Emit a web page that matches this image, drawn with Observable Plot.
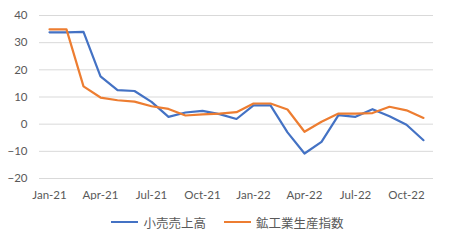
<!DOCTYPE html>
<html>
<head>
<meta charset="utf-8">
<script src="https://cdn.jsdelivr.net/npm/d3@7"></script>
<script src="https://cdn.jsdelivr.net/npm/@observablehq/plot@0.6"></script>
<style>
  html, body { margin: 0; padding: 0; background: #fff; }
  #chart { width: 450px; height: 244px; position: relative; overflow: hidden; }
  .legend { display: flex; justify-content: center; align-items: center; height: 44px; margin-top: 0px; padding-left: 5px;
            font-family: "Noto Sans CJK JP", sans-serif; font-size: 12.5px; color: #595959; }
  .item { display: flex; align-items: center; margin: 0 9px; }
  .sw { width: 27px; height: 2.5px; margin-right: 5px; }
</style>
</head>
<body>
<div id="chart"></div>
<script>
const months = ["Jan-21","Feb-21","Mar-21","Apr-21","May-21","Jun-21","Jul-21","Aug-21","Sep-21","Oct-21","Nov-21","Dec-21",
                "Jan-22","Feb-22","Mar-22","Apr-22","May-22","Jun-22","Jul-22","Aug-22","Sep-22","Oct-22","Nov-22"];
const tickLabels = ["Jan-21","Apr-21","Jul-21","Oct-21","Jan-22","Apr-22","Jul-22","Oct-22"];
const yTicks = [-20, -10, 0, 10, 20, 30, 40];
const seriesNames = ["小売売上高", "鉱工業生産指数"];
const seriesColors = ["#4472C4", "#ED7D31"];
const retail = [33.8,33.8,34.0,17.6,12.5,12.2,8.2,2.7,4.3,4.9,3.7,1.9,6.9,6.9,-3.0,-10.8,-6.5,3.3,2.7,5.5,2.9,-0.2,-5.9];
const mining = [34.9,34.9,13.9,9.8,8.8,8.3,6.6,5.6,3.2,3.6,3.9,4.4,7.6,7.6,5.4,-2.8,0.9,3.9,3.9,4.1,6.4,5.1,2.3];

const data = [];
months.forEach((m, i) => {
  data.push({month: m, value: retail[i], series: seriesNames[0]});
  data.push({month: m, value: mining[i], series: seriesNames[1]});
});

const plot = Plot.plot({
  width: 450,
  height: 200,
  marginLeft: 39,
  marginRight: 17,
  marginTop: 15,
  marginBottom: 22,
  style: {fontFamily: "Lato, 'Open Sans', sans-serif", fontSize: "11.5px", color: "#595959", background: "#fff"},
  x: {type: "point", domain: months, padding: 0.5, label: null},
  y: {domain: [-20, 40], label: null},
  color: {domain: seriesNames, range: seriesColors},
  marks: [
    Plot.gridY(yTicks, {stroke: "#d9d9d9", strokeOpacity: 1, strokeWidth: 1}),
    Plot.axisY(yTicks, {tickSize: 0, tickPadding: 12, label: null, fill: "#595959", fontSize: 11.5}),
    Plot.axisX(tickLabels, {tickSize: 0, tickPadding: 12, label: null, fill: "#595959", fontSize: 11.5}),
    Plot.line(data, {x: "month", y: "value", z: "series", stroke: "series", strokeWidth: 2.2, strokeLinejoin: "round"})
  ]
});
document.getElementById("chart").appendChild(plot);

const legend = document.createElement("div");
legend.className = "legend";
seriesNames.forEach((n, i) => {
  const it = document.createElement("div");
  it.className = "item";
  const sw = document.createElement("div");
  sw.className = "sw";
  sw.style.background = seriesColors[i];
  const t = document.createElement("span");
  t.textContent = n;
  it.appendChild(sw); it.appendChild(t);
  legend.appendChild(it);
});
document.getElementById("chart").appendChild(legend);
</script>
</body>
</html>
